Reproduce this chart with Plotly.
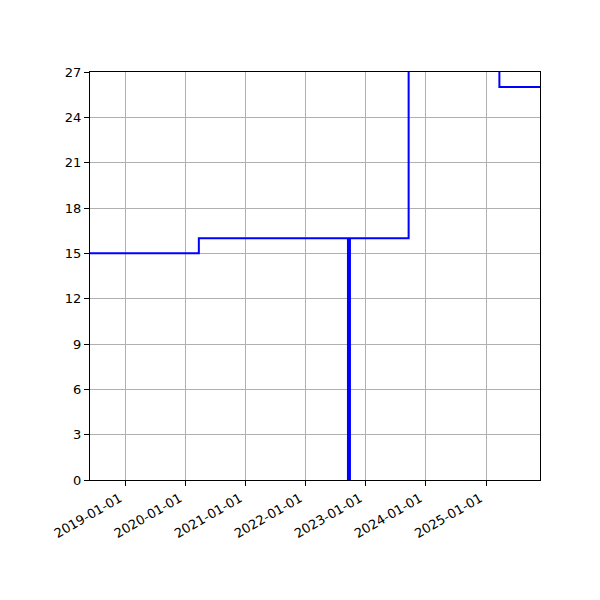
import plotly.graph_objects as go

# step series (value holds until the next date)
dates = ["2018-01-01", "2020-03-21", "2022-09-14", "2022-09-26",
         "2023-09-18", "2025-03-23", "2026-06-01"]
values = [15, 16, 0, 16, 30, 26, 26]

x_range = ["2018-05-29", "2025-11-25"]
x_ticks = ["2019-01-01", "2020-01-01", "2021-01-01", "2022-01-01",
           "2023-01-01", "2024-01-01", "2025-01-01"]
y_ticks = list(range(0, 28, 3))

fig = go.Figure()
fig.add_trace(go.Scatter(
    x=dates, y=values,
    mode="lines", line_shape="hv",
    line=dict(color="blue", width=2),
    showlegend=False,
))

axis_common = dict(
    showline=True, linecolor="black", linewidth=1, mirror=True,
    ticks="outside", ticklen=5, tickcolor="black",
    showgrid=True, gridcolor="#b0b0b0", gridwidth=1,
    zeroline=False,
    tickfont=dict(family="DejaVu Sans", size=13, color="black"),
)

fig.update_xaxes(
    type="date", range=x_range,
    tickvals=x_ticks, ticktext=x_ticks, tickangle=-30,
    ticklabelshift=-6,
    **axis_common,
)
fig.update_yaxes(
    range=[0, 27], tickvals=y_ticks,
    **axis_common,
)

# page body adds an 8px offset, so margins are shifted to compensate
fig.update_layout(
    width=600, height=600,
    margin=dict(l=82, r=68, t=64, b=128),
    plot_bgcolor="white", paper_bgcolor="white",
)

fig.write_html("out.html")
